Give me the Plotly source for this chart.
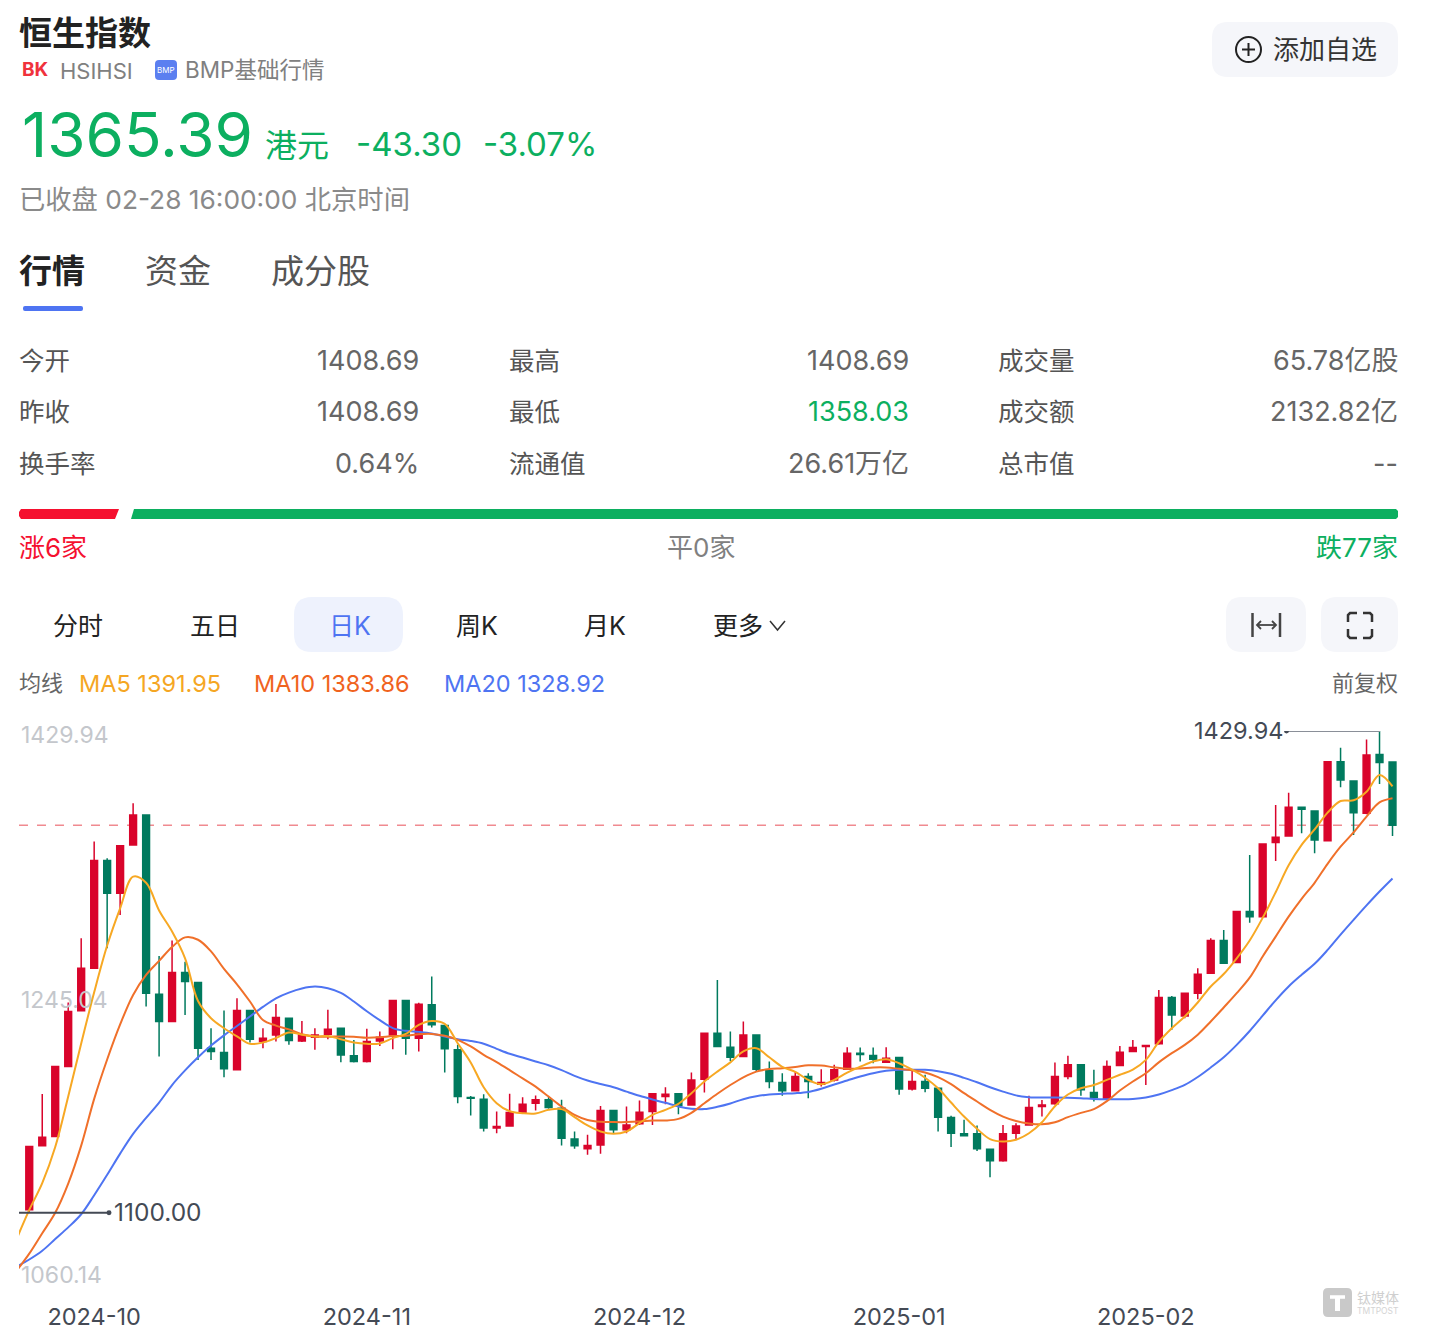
import plotly.graph_objects as go

W = 1440
H = 1343
FONT = "Inter, Noto Sans CJK SC, sans-serif"
RED = "#D9042B"
GREEN = "#007A5E"
PRICE_GREEN = "#0CAF60"
BLUE = "#4E74F2"

# daily candles
open_ = [1102.0,1145.9,1152.2,1200.2,1238.3,1267.5,1341.2,1318.8,1351.9,1372.4,1249.7,1231.0,1264.5,1257.7,1212.7,1209.7,1197.9,1238.5,1217.3,1221.8,
         1233.2,1217.7,1220.2,1222.3,1226.4,1207.5,1203.6,1217.7,1221.8,1245.3,1219.6,1242.4,1228.2,1211.6,1178.9,1177.8,1158.0,1159.5,1168.7,1175.1,
         1177.4,1171.6,1150.6,1143.8,1146.5,1170.0,1156.8,1160.9,1169.4,1179.6,1181.5,1173.9,1191.5,1223.0,1213.4,1207.0,1221.8,1197.2,1189.2,1183.5,
         1193.3,1188.1,1191.0,1198.3,1209.3,1207.7,1203.1,1206.3,1184.7,1189.9,1185.3,1165.3,1154.1,1154.1,1143.6,1135.6,1154.5,1160.2,1172.8,1174.6,
         1193.3,1201.3,1182.4,1178.5,1200.9,1210.4,1213.9,1215.7,1247.4,1234.8,1250.4,1264.0,1286.4,1271.4,1306.3,1302.8,1353.5,1358.1,1377.7,1375.2,
         1354.8,1408.9,1395.7,1373.6,1413.9,1408.69]
high = [1102.5,1181.4,1200.6,1244.0,1288.0,1354.2,1342.8,1351.6,1380.4,1372.6,1275.9,1286.4,1272.0,1258.0,1226.4,1238.5,1246.9,1239.0,1226.4,1243.0,
        1233.5,1231.4,1226.4,1239.0,1226.6,1218.4,1226.0,1224.1,1245.5,1245.5,1243.9,1261.8,1228.5,1215.0,1180.0,1181.2,1169.4,1181.5,1179.2,1180.3,
        1179.6,1177.4,1155.7,1153.4,1173.2,1170.4,1172.8,1176.9,1182.0,1186.0,1181.7,1196.0,1223.5,1259.5,1224.1,1231.0,1222.0,1203.6,1195.6,1196.7,
        1195.6,1198.3,1201.3,1213.4,1213.2,1213.2,1213.4,1206.5,1197.4,1194.5,1185.5,1166.4,1163.7,1159.8,1144.0,1160.2,1161.4,1180.1,1177.3,1202.9,
        1207.5,1201.5,1197.9,1204.3,1214.3,1218.4,1214.7,1252.6,1248.5,1250.6,1267.5,1288.0,1293.7,1306.6,1345.0,1353.0,1379.3,1387.7,1378.0,1375.5,
        1409.2,1418.5,1396.0,1424.2,1429.94,1408.69]
low = [1100.0,1145.5,1152.2,1200.0,1238.0,1267.0,1281.2,1304.0,1351.5,1241.2,1207.0,1230.5,1235.5,1204.7,1204.7,1192.9,1197.5,1216.6,1212.7,1217.3,
       1215.0,1217.0,1211.6,1218.9,1203.1,1203.0,1203.0,1214.3,1212.0,1208.2,1210.4,1226.9,1196.1,1175.1,1166.6,1155.7,1154.5,1159.0,1168.0,1170.0,
       1171.2,1146.1,1143.8,1139.7,1140.4,1154.1,1154.5,1160.2,1160.2,1174.4,1167.5,1173.5,1182.4,1213.5,1204.0,1206.6,1196.7,1185.3,1180.1,1183.0,
       1178.5,1186.5,1189.9,1198.0,1203.6,1202.4,1203.0,1180.8,1183.7,1182.6,1155.7,1145.0,1152.5,1142.4,1124.4,1135.0,1150.6,1160.0,1165.9,1174.0,
       1191.5,1180.1,1176.2,1178.0,1200.5,1210.0,1187.6,1215.0,1225.3,1233.2,1246.3,1263.5,1270.5,1271.0,1298.7,1302.0,1340.9,1357.5,1359.9,1346.2,
       1354.5,1391.4,1358.7,1373.0,1393.7,1358.03]
close = [1145.4,1151.8,1200.2,1237.8,1267.5,1341.2,1318.8,1351.4,1372.4,1250.4,1231.0,1264.5,1258.4,1212.7,1210.4,1198.6,1238.5,1218.9,1219.6,1233.7,
         1218.0,1221.8,1221.8,1225.7,1208.1,1203.6,1217.3,1220.2,1245.3,1219.6,1242.8,1228.7,1212.3,1179.6,1178.5,1158.0,1159.1,1168.7,1174.4,1177.4,
         1172.1,1151.1,1145.9,1146.1,1170.0,1156.8,1160.2,1168.9,1181.5,1181.2,1173.5,1191.0,1223.0,1213.9,1206.6,1221.8,1198.3,1189.9,1183.5,1193.3,
         1189.9,1189.2,1197.9,1209.3,1208.4,1205.2,1205.9,1184.7,1189.9,1185.3,1165.5,1154.5,1152.7,1143.8,1135.6,1154.1,1159.5,1172.1,1173.9,1193.3,
         1201.3,1184.2,1178.9,1200.2,1210.0,1213.2,1214.5,1247.4,1235.5,1250.4,1263.4,1286.4,1270.9,1306.3,1302.8,1352.6,1357.1,1377.7,1376.3,1355.3,
         1408.9,1396.4,1374.0,1413.5,1408.3,1365.39]

# moving averages, first value is just off the left edge
ma5 = [1081.5,1102.0,1120.3,1145.0,1179.6,1216.0,1251.0,1283.0,1308.5,1330.2,1326.0,1307.0,1292.6,1274.3,1245.0,1233.2,1226.4,1220.8,1215.7,1216.6,1219.6,
       1223.5,1222.0,1220.7,1221.0,1218.9,1216.6,1215.7,1216.0,1219.6,1222.5,1228.7,1231.4,1229.4,1216.1,1203.0,1186.0,1175.1,1169.5,1168.2,1168.0,
       1170.5,1171.0,1165.5,1159.8,1155.7,1154.1,1155.7,1161.4,1167.1,1170.5,1174.6,1181.9,1189.9,1196.7,1203.0,1210.5,1212.7,1206.5,1200.0,1196.5,
       1191.0,1188.0,1191.0,1196.0,1200.0,1203.6,1205.2,1202.4,1198.0,1192.5,1185.3,1175.5,1165.9,1157.5,1150.5,1148.8,1150.0,1154.5,1162.0,1173.0,
       1181.0,1185.3,1187.5,1191.0,1194.5,1198.0,1204.7,1217.0,1226.4,1234.4,1244.0,1255.0,1263.5,1274.3,1286.5,1302.0,1319.5,1338.0,1352.0,1362.5,
       1374.0,1382.0,1382.5,1388.4,1399.8,1391.95]
ma10 = [1060.0,1072.0,1086.0,1100.0,1120.0,1146.0,1178.0,1205.0,1229.0,1249.2,1262.9,1272.5,1282.0,1288.6,1287.0,1279.0,1267.0,1256.5,1244.7,1232.0,1228.2,
        1225.6,1222.3,1220.7,1220.5,1220.8,1220.6,1219.9,1220.2,1221.0,1221.2,1222.3,1222.5,1221.2,1218.4,1213.9,1208.2,1203.2,1197.7,1192.0,1186.4,
        1179.6,1172.8,1167.1,1163.6,1162.3,1162.1,1162.1,1162.5,1163.2,1163.2,1164.3,1168.5,1175.0,1181.5,1187.5,1192.8,1196.7,1198.4,1199.0,1199.9,
        1201.0,1200.8,1199.6,1198.6,1198.8,1199.5,1199.5,1198.6,1197.6,1196.1,1192.9,1188.1,1181.9,1176.2,1170.5,1165.9,1162.9,1161.2,1160.6,1162.0,
        1165.5,1168.4,1171.0,1176.5,1183.7,1189.9,1195.6,1203.0,1209.3,1215.0,1222.0,1231.0,1240.6,1250.4,1261.0,1275.5,1289.1,1302.8,1315.0,1326.0,
        1339.0,1350.7,1360.5,1371.3,1381.0,1383.86]
ma20 = [1063.0,1068.0,1074.0,1082.0,1090.0,1099.0,1112.0,1126.0,1140.5,1154.0,1165.0,1175.5,1187.5,1197.5,1206.5,1214.5,1221.5,1227.9,1234.4,1241.0,1246.9,
        1250.8,1253.6,1254.9,1253.8,1250.6,1244.7,1238.0,1231.9,1226.5,1224.6,1223.9,1222.8,1220.7,1218.9,1217.7,1215.8,1212.3,1208.9,1206.3,1203.6,
        1201.0,1197.7,1193.8,1190.6,1188.2,1186.0,1183.0,1180.1,1177.6,1175.3,1172.8,1171.2,1171.0,1172.6,1174.9,1177.8,1179.8,1181.0,1181.5,1181.9,
        1182.8,1185.0,1187.9,1190.6,1193.3,1195.6,1197.2,1197.9,1198.0,1197.9,1197.0,1195.2,1192.4,1189.4,1186.0,1183.0,1180.4,1179.2,1178.9,1178.9,
        1178.8,1178.5,1178.0,1177.8,1177.8,1178.0,1178.9,1181.0,1184.0,1187.6,1193.0,1199.5,1206.5,1215.0,1224.5,1235.0,1245.5,1255.0,1263.0,1270.5,
        1280.0,1290.5,1300.6,1310.5,1320.0,1328.92]

days = list(range(len(close)))
ma_days = [-1] + days
tick_days = [5, 26, 47, 67, 86]
tick_labels = ["2024-10", "2024-11", "2024-12", "2025-01", "2025-02"]
y_labels = ["1429.94", "1245.04", "1060.14"]
last_close = 1365.39
max_price = 1429.94
min_marker = 1100.00


def fx(x):
    return x / W


def fy(y):
    return 1 - y / H


annots = []
shapes = []


def text(x, y, s, size, color, anchor="left", bold=False):
    if bold:
        s = "<b>" + s + "</b>"
    annots.append(dict(x=fx(x), y=fy(y), xref="paper", yref="paper", text=s, showarrow=False,
                       xanchor=anchor, yanchor="middle", align=anchor,
                       font=dict(size=size, color=color, family=FONT),
                       borderpad=0, borderwidth=0))


def rrect(x0, y0, x1, y1, r, color):
    a, b, c, d = fx(x0), fy(y0), fx(x1), fy(y1)
    rx, ry = r / W, r / H
    p = (f"M {a+rx} {b} L {c-rx} {b} Q {c} {b} {c} {b-ry} L {c} {d+ry} Q {c} {d} {c-rx} {d} "
         f"L {a+rx} {d} Q {a} {d} {a} {d+ry} L {a} {b-ry} Q {a} {b} {a+rx} {b} Z")
    shapes.append(dict(type="path", path=p, xref="paper", yref="paper", fillcolor=color, line=dict(width=0), layer="below"))


def pline(x0, y0, x1, y1, color, width=2):
    shapes.append(dict(type="line", x0=fx(x0), y0=fy(y0), x1=fx(x1), y1=fy(y1), xref="paper", yref="paper",
                       line=dict(color=color, width=width)))


def ppath(points, color, width=2):
    p = "M " + " L ".join(f"{fx(a)} {fy(b)}" for a, b in points)
    shapes.append(dict(type="path", path=p, xref="paper", yref="paper", line=dict(color=color, width=width)))


def poly(points, color):
    p = "M " + " L ".join(f"{fx(a)} {fy(b)}" for a, b in points) + " Z"
    shapes.append(dict(type="path", path=p, xref="paper", yref="paper", fillcolor=color, line=dict(width=0), layer="below"))


# header
text(19, 33, "恒生指数", 33, "#222222", bold=True)
text(22, 70, "BK", 19, "#F0323C", bold=True)
text(60, 71, "HSIHSI", 22, "#808080")
rrect(155, 60, 177, 80, 4, "#5B7FF0")
text(166, 70, "BMP", 8, "#FFFFFF", anchor="center")
text(185, 70, "BMP基础行情", 22.5, "#808080")
text(22, 134, "1365.39", 62, PRICE_GREEN)
text(265, 145, "港元", 32, PRICE_GREEN)
text(356, 144, "-43.30", 33, PRICE_GREEN)
text(483, 144, "-3.07%", 33, PRICE_GREEN)
text(19, 199, "已收盘 02-28 16:00:00 北京时间", 26.3, "#8A8A8A")

# add button
rrect(1212, 22, 1398, 77, 16, "#F5F6FA")
shapes.append(dict(type="circle", xref="paper", yref="paper", x0=fx(1236), x1=fx(1261), y0=fy(37), y1=fy(62),
                   line=dict(color="#222222", width=2)))
pline(1242, 49.5, 1255, 49.5, "#222222")
pline(1248.5, 43, 1248.5, 56, "#222222")
text(1273, 50, "添加自选", 26, "#333333")

# tabs
text(19, 271, "行情", 33, "#222222", bold=True)
text(145, 271, "资金", 33, "#555555")
text(271, 271, "成分股", 33, "#555555")
rrect(23, 306, 83, 311, 2, BLUE)

# quote table
rows = [["今开", "1408.69", "最高", "1408.69", "成交量", "65.78亿股"],
        ["昨收", "1408.69", "最低", "1358.03", "成交额", "2132.82亿"],
        ["换手率", "0.64%", "流通值", "26.61万亿", "总市值", "--"]]
for yy, r in zip([361, 411.5, 463.5], rows):
    text(19, yy, r[0], 25.5, "#555555")
    text(419, yy, r[1], 27, "#666666", anchor="right")
    text(509, yy, r[2], 25.5, "#555555")
    text(909, yy, r[3], 27, PRICE_GREEN if r[3] == "1358.03" else "#666666", anchor="right")
    text(998, yy, r[4], 25.5, "#555555")
    text(1398, yy, r[5], 27, "#666666", anchor="right")

# up/down bar
poly([(21, 509), (119, 509), (115, 519), (21, 519), (19, 516), (19, 512)], "#F5102F")
poly([(134, 509), (1396, 509), (1398, 511), (1398, 517), (1396, 519), (131, 519)], "#0CAF60")
text(19, 547, "涨6家", 26, "#F5102F")
text(701, 547, "平0家", 26, "#808080", anchor="center")
text(1398, 547, "跌77家", 26, PRICE_GREEN, anchor="right")

# period buttons
rrect(294, 597, 403, 652, 18, "#EEF2FD")
for cx, s, c in [(78, "分时", "#222222"), (215, "五日", "#222222"), (350, "日K", BLUE),
                 (477, "周K", "#222222"), (605, "月K", "#222222"), (738, "更多", "#222222")]:
    text(cx, 626, s, 25, c, anchor="center")
ppath([(770, 621), (777.5, 630), (785, 621)], "#333333", 1.5)

rrect(1226, 597, 1306, 652, 16, "#F5F6FA")
rrect(1321, 597, 1398, 652, 16, "#F5F6FA")
pline(1252.5, 613, 1252.5, 637, "#444444", 2.5)
pline(1280, 613, 1280, 637, "#444444", 2.5)
pline(1257, 625, 1276, 625, "#444444", 1.8)
ppath([(1261, 621), (1257, 625), (1261, 629)], "#444444", 1.8)
ppath([(1272, 621), (1276, 625), (1272, 629)], "#444444", 1.8)
for x0, y0, dx, dy in [(1348, 613, 1, 1), (1372, 613, -1, 1), (1348, 638, 1, -1), (1372, 638, -1, -1)]:
    ppath([(x0, y0 + 9 * dy), (x0, y0 + 2 * dy), (x0 + 2 * dx, y0), (x0 + 9 * dx, y0)], "#333333", 2.5)

# ma legend
text(19, 683, "均线", 22, "#666666")
text(79, 683, "MA5 1391.95", 23.5, "#F5A623")
text(254, 683, "MA10 1383.86", 23.5, "#F0631E")
text(444, 683, "MA20 1328.92", 23.5, BLUE)
text(1398, 683, "前复权", 22, "#666666", anchor="right")

# axis labels inside the chart
for yy, s in zip([735, 1000, 1275], y_labels):
    text(21, yy, s, 23, "#C4C7CC")

# max / min markers
shapes.append(dict(type="line", xref="paper", yref="y", x0=fx(19), x1=fx(109), y0=min_marker, y1=min_marker,
                   line=dict(color="#444A55", width=2)))
shapes.append(dict(type="circle", xref="paper", yref="y", x0=fx(106.5), x1=fx(111.5), y0=min_marker - 1.7, y1=min_marker + 1.7,
                   fillcolor="#444A55", line=dict(width=0)))
text(114, 1212, "1100.00", 24.5, "#444A55")
shapes.append(dict(type="line", xref="paper", yref="y", x0=fx(1286), x1=fx(1380), y0=max_price, y1=max_price,
                   line=dict(color="#8A8F98", width=2)))
shapes.append(dict(type="circle", xref="paper", yref="y", x0=fx(1284), x1=fx(1289), y0=max_price - 1.7, y1=max_price + 1.7,
                   fillcolor="#444A55", line=dict(width=0)))
text(1194, 730, "1429.94", 23.5, "#444A55")

# last close dashed line
shapes.append(dict(type="line", xref="paper", yref="y", x0=fx(19), x1=fx(1399), y0=last_close, y1=last_close,
                   layer="below", line=dict(color="#F08A90", width=1.5, dash="dash")))

# watermark
rrect(1323, 1288, 1352, 1317, 5, "#C9C9C9")
pline(1330, 1297, 1345, 1297, "#FFFFFF", 3.5)
pline(1337.5, 1297, 1337.5, 1311, "#FFFFFF", 5)
text(1357, 1297, "钛媒体", 14, "#CFCFCF")
text(1357, 1311, "TMTPOST", 8.5, "#D4D4D4")

fig = go.Figure()
fig.add_trace(go.Candlestick(x=days, open=open_, high=high, low=low, close=close,
                             increasing=dict(line=dict(color=RED, width=1.5), fillcolor=RED),
                             decreasing=dict(line=dict(color=GREEN, width=1.5), fillcolor=GREEN),
                             whiskerwidth=0, showlegend=False))
fig.add_trace(go.Scatter(x=ma_days, y=ma20, mode="lines", line=dict(color=BLUE, width=2, shape="spline"), showlegend=False))
fig.add_trace(go.Scatter(x=ma_days, y=ma10, mode="lines", line=dict(color="#F0702A", width=2, shape="spline"), showlegend=False))
fig.add_trace(go.Scatter(x=ma_days, y=ma5, mode="lines", line=dict(color="#F7A823", width=2, shape="spline"), showlegend=False))

fig.update_layout(
    width=W, height=H, margin=dict(l=0, r=0, t=0, b=0), autosize=False, boxgap=0.25,
    paper_bgcolor="white", plot_bgcolor="rgba(0,0,0,0)", showlegend=False,
    annotations=annots, shapes=shapes,
    xaxis=dict(domain=[19 / W, 1399 / W], range=[-0.79, 105.5], rangeslider=dict(visible=False),
               showgrid=False, zeroline=False, showline=False, ticks="",
               tickmode="array", tickvals=tick_days, ticktext=tick_labels,
               anchor="free", position=(H - 1300) / H,
               tickfont=dict(size=23.5, color="#444A55", family=FONT)),
    yaxis=dict(domain=[fy(1271), fy(731)], range=[1060.14, 1429.94], showgrid=False,
               zeroline=False, showline=False, showticklabels=False, ticks=""),
)

fig.write_html("out.html", config={"displayModeBar": False}, post_script="document.body.style.margin='0';")
